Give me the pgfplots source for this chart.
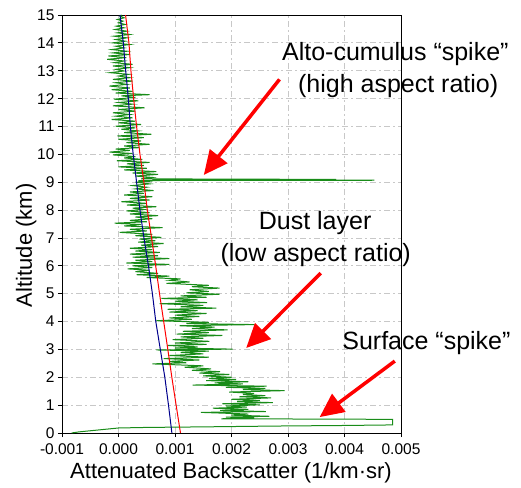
\documentclass[border=0pt]{standalone}
\usepackage{fontspec}
\setmainfont{Liberation Sans}
\usepackage{pgfplots}
\pgfplotsset{compat=1.18}
\usetikzlibrary{arrows.meta}
\definecolor{sigg}{RGB}{0,128,0}
\definecolor{molr}{RGB}{255,0,0}
\definecolor{molb}{RGB}{0,0,140}
\definecolor{gridc}{RGB}{200,200,200}
\begin{document}
\begin{tikzpicture}
\useasboundingbox (-62pt,-54pt) rectangle (459pt,433pt);
\begin{axis}[
  at={(0,0)}, anchor=south west,
  scale only axis, width=339pt, height=418pt,
  xmin=-1, xmax=5, ymin=0, ymax=15,
  xtick={-1,0,1,2,3,4,5},
  xticklabels={-0.001,0.000,0.001,0.002,0.003,0.004,0.005},
  ytick={0,1,...,15},
  /pgf/number format/assume math mode=true,
  tick pos=left, tick align=outside, major tick length=4pt,
  grid=major,
  grid style={gridc, line width=0.8pt, dash pattern=on 6pt off 3pt on 2pt off 3pt},
  axis line style={black, line width=0.8pt},
  tick style={black, line width=0.8pt},
  ticklabel style={font=\fontsize{15.5}{15.5}\selectfont},
  xticklabel style={anchor=base, yshift=-17pt},
  yticklabel style={anchor=east},
  xlabel={Attenuated Backscatter (1/km·sr)},
  ylabel={Altitude (km)},
  label style={font=\fontsize{22}{22}\selectfont},
  xlabel style={at={(axis description cs:0.4985,0)}, anchor=base, yshift=-45pt},
  ylabel style={at={(axis description cs:0,0.449)}, anchor=base, yshift=30pt},
  clip=false,
]
% attenuated backscatter signal (units of 0.001 /km/sr)
\addplot[sigg, line width=1pt, draw opacity=0.9] coordinates {
(-0.83,0.00) (-0.7,0.04) (-0.45,0.09) (-0.2,0.14) (0.0,0.18) (0.5,0.20) (1.5,0.22) (2.8,0.25) (4.0,0.27) (4.85,0.29)
(4.85,0.49) (3.5,0.50) (1.82,0.51) (2.4,0.54) (1.9,0.57) (2.67,0.60) (2.0,0.64) (2.3,0.68) (1.46,0.74) (2.61,0.77)
(1.8,0.81) (2.3,0.85) (1.67,0.89) (2.27,0.93) (1.9,0.97) (2.5,1.01) (1.84,1.05) (2.73,1.09) (2.1,1.13) (2.5,1.17)
(2.0,1.21) (2.7,1.26) (2.14,1.30) (2.6,1.34) (2.2,1.38) (2.4,1.42) (1.96,1.47) (2.94,1.52) (2.2,1.56) (2.6,1.60)
(1.9,1.64) (2.62,1.68) (1.31,1.72) (2.2,1.76) (1.7,1.80) (2.3,1.84) (1.55,1.88) (2.08,1.92) (1.6,1.96) (2.0,2.00)
(1.5,2.05) (1.96,2.10) (1.43,2.15) (1.8,2.20) (1.3,2.25) (1.64,2.30) (1.17,2.36) (1.5,2.41) (0.6,2.48) (1.2,2.52)
(0.9,2.57) (1.43,2.62) (0.8,2.67) (1.6,2.72) (0.9,2.78) (1.5,2.84) (1.1,2.89) (1.6,2.94) (0.67,2.98) (2.02,3.01)
(1.0,3.05) (1.4,3.09) (0.87,3.14) (1.56,3.18) (1.0,3.23) (1.61,3.29) (0.96,3.35) (1.5,3.40) (1.1,3.45) (1.84,3.50)
(1.03,3.55) (1.6,3.60) (1.14,3.65) (1.93,3.70) (1.3,3.75) (1.7,3.80) (1.08,3.85) (2.41,3.89) (1.2,3.93) (1.6,3.97)
(0.67,4.03) (1.3,4.08) (0.9,4.13) (1.43,4.18) (1.0,4.23) (1.56,4.29) (0.9,4.34) (1.4,4.39) (0.87,4.44) (1.73,4.48)
(1.1,4.53) (1.5,4.58) (0.73,4.64) (1.57,4.68) (1.0,4.73) (1.4,4.78) (0.76,4.83) (1.56,4.87) (1.1,4.92) (1.79,4.98)
(1.2,5.03) (1.6,5.08) (1.26,5.14) (1.79,5.20) (1.3,5.25) (1.6,5.30) (0.85,5.37) (1.26,5.42) (0.9,5.48) (1.1,5.53)
(0.5,5.58) (0.9,5.63) (0.32,5.68) (0.7,5.73) (0.3,5.79) (0.55,5.84) (0.16,5.89) (0.6,5.94) (0.25,6.00) (0.9,6.05)
(0.14,6.10) (0.6,6.15) (0.3,6.20) (0.9,6.26) (0.25,6.31) (0.7,6.36) (0.2,6.42) (0.73,6.48) (0.3,6.53) (0.6,6.58)
(0.2,6.63) (0.7,6.69) (0.4,6.74) (0.8,6.80) (0.35,6.85) (0.65,6.90) (0.37,6.96) (0.76,7.02) (0.3,7.08) (0.6,7.13)
(0.02,7.20) (0.5,7.25) (0.2,7.31) (0.78,7.37) (0.1,7.43) (0.4,7.48) (-0.07,7.53) (0.5,7.58) (0.2,7.63) (0.6,7.69)
(0.3,7.75) (0.7,7.80) (0.2,7.86) (0.55,7.91) (0.14,7.97) (0.45,8.02) (0.25,8.07) (0.67,8.12) (0.15,8.18) (0.5,8.24)
(0.05,8.30) (0.55,8.36) (0.2,8.42) (0.6,8.48) (0.1,8.54) (0.45,8.60) (0.2,8.65) (0.62,8.70) (0.3,8.76) (0.5,8.82)
(0.25,8.88) (0.55,8.94) (0.3,9.00) (0.6,9.04) (0.35,9.06) (4.53,9.07) (0.6,9.08) (3.85,9.10) (0.4,9.12) (0.6,9.17)
(0.3,9.22) (0.7,9.28) (0.25,9.33) (0.67,9.38) (0.1,9.44) (0.5,9.50) (0.0,9.55) (0.45,9.60) (0.15,9.66) (0.55,9.71)
(-0.03,9.77) (0.42,9.82) (0.1,9.87) (0.3,9.92) (-0.1,9.98) (0.25,10.03) (-0.16,10.08) (0.2,10.14) (-0.05,10.19) (0.37,10.24)
(0.1,10.30) (0.55,10.36) (0.14,10.42) (0.4,10.48) (0.0,10.54) (0.45,10.60) (-0.02,10.66) (0.58,10.72) (0.1,10.78) (0.35,10.84)
(0.05,10.90) (0.3,10.95) (-0.05,11.01) (0.4,11.07) (0.0,11.13) (0.3,11.19) (-0.12,11.25) (0.25,11.31) (-0.05,11.37) (0.2,11.43)
(-0.1,11.49) (0.3,11.55) (0.0,11.61) (0.46,11.67) (-0.1,11.74) (0.25,11.80) (0.0,11.86) (0.35,11.92) (-0.08,11.98) (0.3,12.04)
(0.05,12.10) (0.55,12.14) (-0.05,12.20) (0.25,12.26) (-0.12,12.32) (0.2,12.38) (-0.16,12.45) (0.15,12.51) (-0.05,12.57) (0.25,12.63)
(-0.1,12.69) (0.2,12.75) (0.0,12.81) (0.18,12.87) (-0.15,12.93) (0.1,12.99) (-0.05,13.05) (0.2,13.11) (-0.1,13.17) (0.25,13.23)
(-0.08,13.29) (0.1,13.35) (-0.2,13.41) (0.14,13.47) (-0.18,13.53) (0.2,13.58) (-0.1,13.64) (0.15,13.70) (-0.12,13.76) (0.1,13.82)
(-0.05,13.88) (0.2,13.94) (-0.1,14.00) (0.12,14.06) (-0.05,14.12) (0.15,14.18) (-0.08,14.24) (0.2,14.30) (-0.02,14.36) (0.15,14.42)
(-0.06,14.48) (0.1,14.54) (-0.04,14.60) (0.12,14.66) (0.0,14.72) (0.08,14.78) (-0.02,14.84) (0.1,14.90) (0.03,14.96) (0.06,15.0)
};
% molecular (blue)
\addplot[molb, line width=1pt] coordinates {
(0.945,0) (0.885,1) (0.82,2) (0.74,3) (0.66,4) (0.60,5) (0.53,6) (0.45,7) (0.38,8) (0.32,9) (0.26,10) (0.21,11) (0.174,12) (0.127,13) (0.085,14) (0.027,15)
};
% molecular (red)
\addplot[molr, line width=1pt] coordinates {
(1.097,0) (1.02,1) (0.944,2) (0.873,3) (0.80,4) (0.726,5) (0.658,6) (0.585,7) (0.51,8) (0.45,9) (0.38,10) (0.32,11) (0.268,12) (0.22,13) (0.185,14) (0.125,15)
};
% annotations
\draw[molr, line width=3.5pt, -{Triangle[length=24pt,width=22pt]}] (axis cs:2.85,12.69) -- (axis cs:1.51,9.26);
\draw[molr, line width=3.5pt, -{Triangle[length=24pt,width=22pt]}] (axis cs:3.58,5.74) -- (axis cs:2.26,3.05);
\draw[molr, line width=3.5pt, -{Triangle[length=24pt,width=22pt]}] (axis cs:4.89,2.58) -- (axis cs:3.56,0.57);
\node[anchor=base, font=\fontsize{25}{25}\selectfont, inner sep=0pt] at (axis cs:4.90,13.38) {Alto-cumulus “spike”};
\node[anchor=base, font=\fontsize{25}{25}\selectfont, inner sep=0pt] at (axis cs:4.95,12.21) {(high aspect ratio)};
\node[anchor=base, font=\fontsize{25}{25}\selectfont, inner sep=0pt] at (axis cs:3.48,7.31) {Dust layer};
\node[anchor=base, font=\fontsize{25}{25}\selectfont, inner sep=0pt] at (axis cs:3.49,6.15) {(low aspect ratio)};
\node[anchor=base, font=\fontsize{25}{25}\selectfont, inner sep=0pt] at (axis cs:5.45,3.00) {Surface “spike”};
\end{axis}
\end{tikzpicture}
\end{document}
